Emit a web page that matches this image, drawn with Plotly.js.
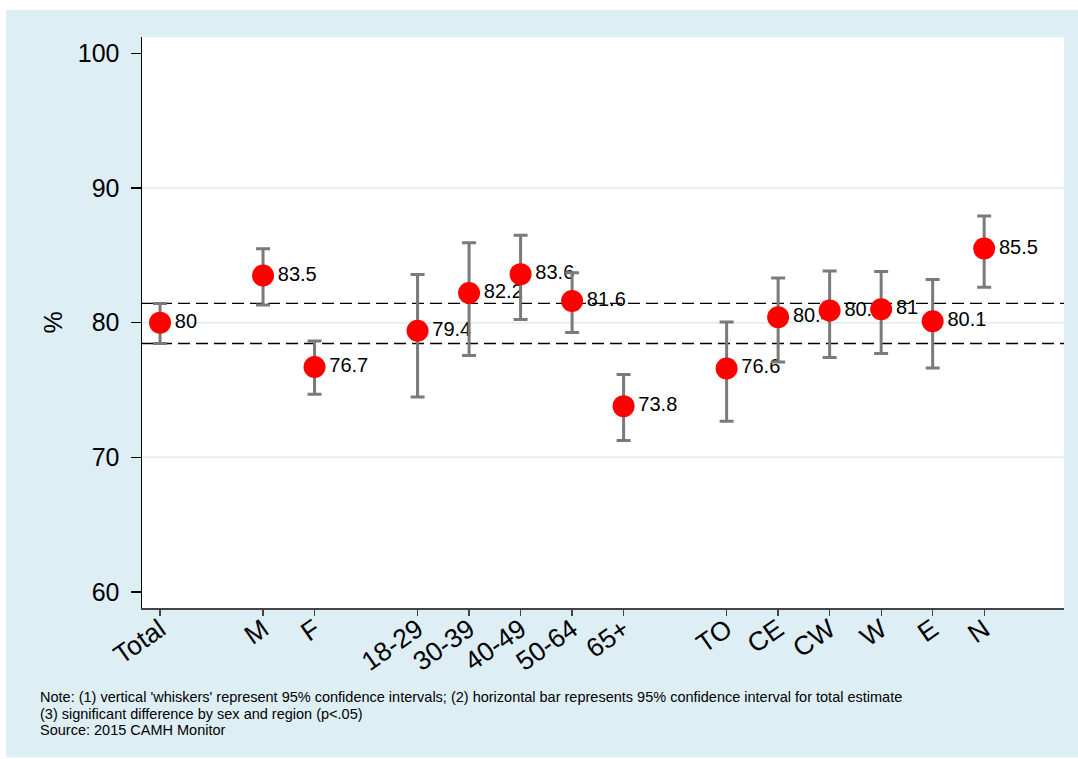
<!DOCTYPE html>
<html>
<head>
<meta charset="utf-8">
<script src="https://cdn.plot.ly/plotly-3.0.1.min.js"></script>
<style>
  html, body { margin: 0; padding: 0; background: #ffffff; }
  #chart { position: absolute; left: 6px; top: 10px; width: 1072px; height: 747px; }
</style>
</head>
<body>
<div id="chart"></div>
<script>
// Categories in plotting order; whitespace spacers in axisOrder create the gaps between groups
const categories = ['Total', 'M', 'F', '18-29', '30-39', '40-49', '50-64', '65+', 'TO', 'CE', 'CW', 'W', 'E', 'N'];
const axisOrder  = ['Total', ' ', 'M', 'F', '  ', '18-29', '30-39', '40-49', '50-64', '65+', '   ', 'TO', 'CE', 'CW', 'W', 'E', 'N'];
const estimates  = [80, 83.5, 76.7, 79.4, 82.2, 83.6, 81.6, 73.8, 76.6, 80.4, 80.9, 81, 80.1, 85.5];
const ciLow      = [78.45, 81.31, 74.69, 74.47, 77.56, 80.24, 79.27, 71.25, 72.68, 77.07, 77.41, 77.71, 76.64, 82.62];
const ciHigh     = [81.43, 85.48, 78.63, 83.58, 85.93, 86.48, 83.70, 76.15, 80.04, 83.31, 83.83, 83.80, 83.21, 87.91];
const valueLabels = ['80', '83.5', '76.7', '79.4', '82.2', '83.6', '81.6', '73.8', '76.6', '80.4', '80.9', '81', '80.1', '85.5'];
const yTicks     = [60, 70, 80, 90, 100];
const gridValues = [70, 80, 90];
const noteLines  = [
  "Note: (1) vertical 'whiskers' represent 95% confidence intervals; (2) horizontal bar represents 95% confidence interval for total estimate",
  "(3) significant difference by sex and region (p<.05)",
  "Source: 2015 CAMH Monitor"
];

const FONT = 'Liberation Sans, Arial, sans-serif';

const errPlus  = estimates.map((v, i) => ciHigh[i] - v);
const errMinus = estimates.map((v, i) => v - ciLow[i]);

const labelTrace = {
  x: categories, y: estimates, type: 'scatter', mode: 'markers+text',
  marker: { size: 22, color: 'rgba(0,0,0,0)', line: { width: 0 } },
  text: valueLabels, textposition: 'middle right',
  textfont: { family: FONT, size: 20, color: '#000000' },
  hoverinfo: 'skip', showlegend: false, cliponaxis: false
};

const pointTrace = {
  x: categories, y: estimates, type: 'scatter', mode: 'markers',
  marker: { color: '#ff0000', size: 22, line: { width: 0 } },
  error_y: { type: 'data', symmetric: false, array: errPlus, arrayminus: errMinus,
             color: '#7a7a7a', thickness: 3, width: 7 },
  hoverinfo: 'skip', showlegend: false, cliponaxis: false
};

const shapes = [];
gridValues.forEach(v => shapes.push({
  type: 'line', xref: 'paper', yref: 'y', x0: 0, x1: 1, y0: v, y1: v,
  line: { color: '#e4eef2', width: 2 }, layer: 'below'
}));
[ciLow[0], ciHigh[0]].forEach(v => shapes.push({
  type: 'line', xref: 'paper', yref: 'y', x0: 0, x1: 1, y0: v, y1: v,
  line: { color: '#000000', width: 1.3, dash: '12px,6px' }, layer: 'below'
}));

const annotations = [
  { text: '%', xref: 'paper', yref: 'paper', x: -0.0976, y: 0.5, xanchor: 'center', yanchor: 'middle',
    textangle: -90, showarrow: false, font: { family: FONT, size: 25, color: '#000000' } }
];
noteLines.forEach((t, i) => annotations.push({
  text: t, xref: 'paper', yref: 'paper', x: -0.1128, y: -0.1559 - i * 0.0289,
  xanchor: 'left', yanchor: 'middle', showarrow: false,
  font: { family: FONT, size: 14.5, color: '#000000' }
}));

const layout = {
  width: 1072, height: 747,
  margin: { l: 136, r: 14, t: 27, b: 149 },
  paper_bgcolor: '#deeef5', plot_bgcolor: '#ffffff',
  showlegend: false,
  xaxis: {
    type: 'category', categoryarray: axisOrder, categoryorder: 'array',
    range: [-0.35, 17.55], tickmode: 'array', tickvals: categories, ticktext: categories,
    tickangle: -35, ticks: 'outside', ticklen: 6, tickwidth: 1.3, tickcolor: '#444444',
    showline: true, linecolor: '#444444', linewidth: 1.5, showgrid: false, zeroline: false,
    tickfont: { family: FONT, size: 26.5, color: '#000000' }, ticklabelstandoff: -12, fixedrange: true
  },
  yaxis: {
    range: [58.81, 101.21], tickmode: 'array', tickvals: yTicks,
    ticks: 'outside', ticklen: 10, tickwidth: 1.3, tickcolor: '#000000',
    showline: true, linecolor: '#000000', linewidth: 1.5, showgrid: false, zeroline: false,
    tickfont: { family: FONT, size: 25, color: '#000000' }, ticklabelstandoff: 6, fixedrange: true
  },
  shapes: shapes,
  annotations: annotations
};

Plotly.newPlot('chart', [labelTrace, pointTrace], layout, { staticPlot: true, displayModeBar: false });
</script>
</body>
</html>
